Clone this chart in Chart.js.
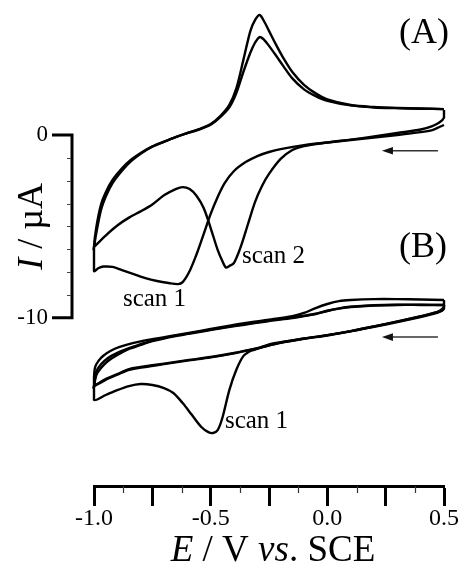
<!DOCTYPE html>
<html><head><meta charset="utf-8">
<script src="https://cdn.jsdelivr.net/npm/chart.js@4/dist/chart.umd.min.js"></script>
<style>html,body{margin:0;padding:0;background:#fff;}canvas{display:block;}</style>
</head><body>
<canvas id="c" width="461" height="565"></canvas>
<script>
// ---------- Panel (A) : potentials (V vs. SCE) and currents (µA) ----------
const aScan1CathE = [0.5, 0.47, 0.45, 0.4, 0.3, 0.2, 0.1, 0.0, -0.1, -0.2, -0.25, -0.3, -0.35, -0.4, -0.44, -0.47, -0.5, -0.53, -0.56, -0.59, -0.62, -0.64, -0.68, -0.73, -0.78, -0.83, -0.88, -0.92, -0.96, -0.98, -1.0];
const aScan1CathI = [0.55, 0.38, 0.27, 0.16, 0.0, -0.14, -0.27, -0.41, -0.55, -0.77, -0.93, -1.15, -1.48, -1.97, -2.63, -3.39, -4.32, -5.42, -6.51, -7.44, -8.05, -8.16, -8.10, -7.99, -7.83, -7.61, -7.39, -7.22, -7.20, -7.28, -7.44];
const aScan2CathE = [0.5, 0.5, 0.48, 0.45, 0.4, 0.3, 0.2, 0.1, 0.0, -0.1, -0.15, -0.2, -0.25, -0.28, -0.31, -0.34, -0.37, -0.40, -0.42, -0.435, -0.45, -0.47, -0.50, -0.53, -0.56, -0.59, -0.62, -0.65, -0.70, -0.75, -0.80, -0.85, -0.90, -0.95, -1.0];
const aScan2CathI = [1.37, 0.95, 0.68, 0.49, 0.30, 0.11, -0.08, -0.25, -0.41, -0.60, -0.82, -1.31, -2.13, -2.79, -3.67, -4.87, -6.08, -7.0, -7.17, -7.25, -6.90, -6.29, -5.09, -4.00, -3.34, -2.96, -2.85, -2.96, -3.30, -3.80, -4.18, -4.52, -4.95, -5.50, -6.13];
const aAnodE = [-1.0, -0.99, -0.97, -0.95, -0.92, -0.88, -0.84, -0.80, -0.75, -0.70, -0.65, -0.60, -0.55, -0.50, -0.46, -0.42, -0.39, -0.36, -0.33, -0.31, -0.29, -0.27, -0.25, -0.22, -0.19, -0.15, -0.10, -0.05, 0.0, 0.1, 0.2, 0.3, 0.4, 0.5];
const aScan1AnodI = [-6.13, -5.04, -3.80, -3.14, -2.45, -1.82, -1.34, -0.98, -0.62, -0.36, -0.11, 0.11, 0.32, 0.60, 1.02, 1.65, 2.55, 4.10, 5.69, 6.29, 6.57, 6.20, 5.70, 4.95, 4.25, 3.45, 2.75, 2.28, 1.95, 1.64, 1.53, 1.48, 1.45, 1.42];
const aScan2AnodI = [-6.13, -5.35, -4.10, -3.38, -2.62, -1.95, -1.42, -1.02, -0.64, -0.37, -0.12, 0.10, 0.30, 0.57, 0.97, 1.52, 2.30, 3.45, 4.50, 5.05, 5.36, 5.20, 4.88, 4.35, 3.80, 3.10, 2.50, 2.13, 1.87, 1.62, 1.51, 1.47, 1.44, 1.42];

// ---------- Panel (B) : drawn on the same current axis, lower down ----------
const bScan1CathE = [0.5, 0.49, 0.45, 0.4, 0.3, 0.2, 0.1, 0.0, -0.1, -0.2, -0.25, -0.28, -0.31, -0.33, -0.36, -0.39, -0.42, -0.45, -0.47, -0.49, -0.51, -0.54, -0.58, -0.62, -0.66, -0.70, -0.75, -0.80, -0.85, -0.90, -0.95, -1.0];
const bScan1CathI = [-9.50, -9.62, -9.76, -9.92, -10.20, -10.47, -10.73, -10.95, -11.14, -11.34, -11.46, -11.60, -11.74, -11.82, -12.10, -12.85, -13.96, -15.49, -16.15, -16.31, -16.26, -15.98, -15.33, -14.67, -14.12, -13.85, -13.68, -13.63, -13.74, -13.96, -14.23, -14.50];
const bScan1AnodE = [-1.0, -0.995, -0.98, -0.96, -0.93, -0.89, -0.83, -0.75, -0.65, -0.55, -0.45, -0.35, -0.25, -0.15, -0.10, -0.05, 0.0, 0.05, 0.1, 0.2, 0.3, 0.4, 0.5];
const bScan1AnodI = [-13.30, -12.70, -12.35, -12.08, -11.82, -11.60, -11.38, -11.17, -10.95, -10.73, -10.51, -10.29, -10.11, -9.91, -9.74, -9.47, -9.25, -9.09, -9.03, -8.98, -8.98, -9.00, -9.03];
const bScanCathE = [0.5, 0.5, 0.48, 0.45, 0.4, 0.3, 0.2, 0.1, 0.0, -0.1, -0.2, -0.3, -0.4, -0.5, -0.6, -0.7, -0.8, -0.85, -0.9, -0.95, -1.0];
const bScan2CathI = [-9.03, -9.40, -9.63, -9.77, -9.93, -10.21, -10.48, -10.73, -10.95, -11.14, -11.36, -11.66, -11.93, -12.15, -12.32, -12.51, -12.70, -12.81, -13.08, -13.36, -13.74];
const bScan3CathI = [-9.30, -9.50, -9.68, -9.80, -9.96, -10.24, -10.50, -10.75, -10.97, -11.16, -11.38, -11.68, -11.95, -12.17, -12.35, -12.54, -12.73, -12.85, -13.12, -13.40, -13.76];
const bScanAnodE = [-1.0, -0.99, -0.97, -0.94, -0.90, -0.85, -0.80, -0.75, -0.65, -0.55, -0.45, -0.35, -0.25, -0.15, -0.10, -0.05, 0.0, 0.05, 0.1, 0.2, 0.3, 0.4, 0.5];
const bScan2AnodI = [-13.74, -13.14, -12.75, -12.37, -12.04, -11.71, -11.49, -11.28, -11.00, -10.78, -10.56, -10.37, -10.18, -10.02, -9.91, -9.80, -9.63, -9.50, -9.41, -9.33, -9.30, -9.30, -9.30];
const bScan3AnodI = [-13.76, -12.95, -12.55, -12.20, -11.92, -11.66, -11.45, -11.25, -10.98, -10.76, -10.54, -10.34, -10.16, -9.99, -9.89, -9.78, -9.62, -9.49, -9.40, -9.32, -9.29, -9.29, -9.30];

// ---------- axes ----------
const xTickValues = [-1.0, -0.5, 0.0, 0.5];
const xTickLabels = ['-1.0', '-0.5', '0.0', '0.5'];
const xMinorTicks = [-0.875, -0.625, -0.375, -0.125, 0.125, 0.375];
const yTickValues = [0, -10];
const yTickLabels = ['0', '-10'];
const yMinorStep = 1.25;

// ---------- text annotations (anchored in data units) ----------
const panelLabels = [
  {text: '(A)', x: 0.414, y: 5.04},
  {text: '(B)', x: 0.41, y: -6.68}
];
const scanLabels = [
  {text: 'scan 1', x: -0.876, y: -9.36},
  {text: 'scan 2', x: -0.366, y: -7.01},
  {text: 'scan 1', x: -0.439, y: -16.04}
];
const sweepArrows = [
  {from: 0.474, to: 0.234, y: -0.86},
  {from: 0.474, to: 0.234, y: -11.06}
];

const FONT = '"Liberation Serif", "Times New Roman", serif';
function pts(E, I) { return E.map((e, i) => ({x: e, y: I[i]})); }

const datasets = [
  pts(aScan1CathE, aScan1CathI).concat(pts(aAnodE, aScan1AnodI)),
  pts(aScan2CathE, aScan2CathI).concat(pts(aAnodE, aScan2AnodI)),
  pts(bScan1CathE, bScan1CathI).concat(pts(bScan1AnodE, bScan1AnodI)),
  pts(bScanCathE, bScan2CathI).concat(pts(bScanAnodE, bScan2AnodI)),
  pts(bScanCathE, bScan3CathI).concat(pts(bScanAnodE, bScan3AnodI))
].map((d, i) => ({label: 'cv' + i, data: d, showLine: true, fill: false, clip: false,
  borderColor: '#000', borderWidth: 2.4, pointRadius: 0, tension: 0.3}));

function drawParts(ctx, parts, x, y, size, align) {
  let total = 0;
  parts.forEach(p => { ctx.font = (p[1] ? 'italic ' : '') + size + 'px ' + FONT; total += ctx.measureText(p[0]).width; });
  let cx = align === 'center' ? x - total / 2 : x;
  ctx.textAlign = 'left';
  parts.forEach(p => {
    ctx.font = (p[1] ? 'italic ' : '') + size + 'px ' + FONT;
    ctx.fillText(p[0], cx, y);
    cx += ctx.measureText(p[0]).width;
  });
}

const decor = {
  id: 'decor',
  afterDraw(chart) {
    const {ctx, chartArea} = chart;
    const xs = chart.scales.x, ys = chart.scales.y;
    ctx.save();
    ctx.fillStyle = '#000';
    // minor x ticks
    ctx.strokeStyle = '#333'; ctx.lineWidth = 1.2;
    xMinorTicks.forEach(v => {
      const px = Math.round(xs.getPixelForValue(v)) + 0.5;
      ctx.beginPath(); ctx.moveTo(px, chartArea.bottom); ctx.lineTo(px, chartArea.bottom + 7); ctx.stroke();
    });
    // y axis bracket
    const ax = chartArea.left - 22;
    const y0 = ys.getPixelForValue(yTickValues[0]);
    const y1 = ys.getPixelForValue(yTickValues[1]);
    ctx.strokeStyle = '#000'; ctx.lineWidth = 3; ctx.lineJoin = 'miter';
    ctx.beginPath(); ctx.moveTo(ax - 20, y0); ctx.lineTo(ax, y0); ctx.lineTo(ax, y1); ctx.lineTo(ax - 20, y1); ctx.stroke();
    ctx.strokeStyle = '#444'; ctx.lineWidth = 1;
    for (let v = yTickValues[0] - yMinorStep; v > yTickValues[1] + 1e-6; v -= yMinorStep) {
      const py = Math.round(ys.getPixelForValue(v)) + 0.5;
      ctx.beginPath(); ctx.moveTo(ax - 5, py); ctx.lineTo(ax - 1, py); ctx.stroke();
    }
    ctx.font = '23px ' + FONT; ctx.textAlign = 'right'; ctx.textBaseline = 'middle';
    yTickValues.forEach((v, i) => ctx.fillText(yTickLabels[i], ax - 24, ys.getPixelForValue(v)));
    ctx.textBaseline = 'alphabetic';
    // y title (rotated)
    ctx.save();
    ctx.translate(42, (y0 + y1) / 2);
    ctx.rotate(-Math.PI / 2);
    drawParts(ctx, [['I', true], [' / \u00B5A', false]], 0, 0, 36, 'center');
    ctx.restore();
    // x title
    const xc = (chartArea.left + chartArea.right) / 2 + 4;
    drawParts(ctx, [['E', true], [' / V ', false], ['vs', true], ['. SCE', false]], xc, 561, 37, 'center');
    // panel labels
    panelLabels.forEach(l => drawParts(ctx, [[l.text, false]], xs.getPixelForValue(l.x), ys.getPixelForValue(l.y), 36, 'center'));
    scanLabels.forEach(l => drawParts(ctx, [[l.text, false]], xs.getPixelForValue(l.x), ys.getPixelForValue(l.y), 25, 'left'));
    // sweep direction arrows
    sweepArrows.forEach(a => {
      const x0 = xs.getPixelForValue(a.from), x1 = xs.getPixelForValue(a.to), py = ys.getPixelForValue(a.y);
      ctx.strokeStyle = '#333'; ctx.lineWidth = 1.5;
      ctx.beginPath(); ctx.moveTo(x0, py); ctx.lineTo(x1 + 8, py); ctx.stroke();
      ctx.fillStyle = '#111';
      ctx.beginPath(); ctx.moveTo(x1, py); ctx.lineTo(x1 + 11, py - 3.8); ctx.lineTo(x1 + 11, py + 3.8); ctx.closePath(); ctx.fill();
    });
    ctx.restore();
  }
};

new Chart(document.getElementById('c'), {
  type: 'scatter',
  data: {datasets},
  options: {
    responsive: false, animation: false, devicePixelRatio: 1,
    layout: {padding: {left: 94, right: 17, top: 0, bottom: 0}},
    plugins: {legend: {display: false}, tooltip: {enabled: false}},
    scales: {
      x: {
        type: 'linear', position: 'bottom', min: -1, max: 0.5,
        afterFit: s => { s.height = 79; },
        grid: {display: true, drawOnChartArea: false, drawTicks: true, tickLength: 20, tickWidth: 3, tickColor: '#000'},
        border: {display: true, color: '#000', width: 3},
        ticks: {
          stepSize: 0.25, autoSkip: false, maxRotation: 0, padding: 0, color: '#000',
          font: {family: FONT, size: 24, lineHeight: 1.1},
          callback: v => { const i = xTickValues.findIndex(t => Math.abs(t - v) < 1e-6); return i >= 0 ? xTickLabels[i] : ''; }
        }
      },
      y: {type: 'linear', display: false, min: -19.21, max: 7.39}
    }
  },
  plugins: [decor]
});
</script>
</body></html>
